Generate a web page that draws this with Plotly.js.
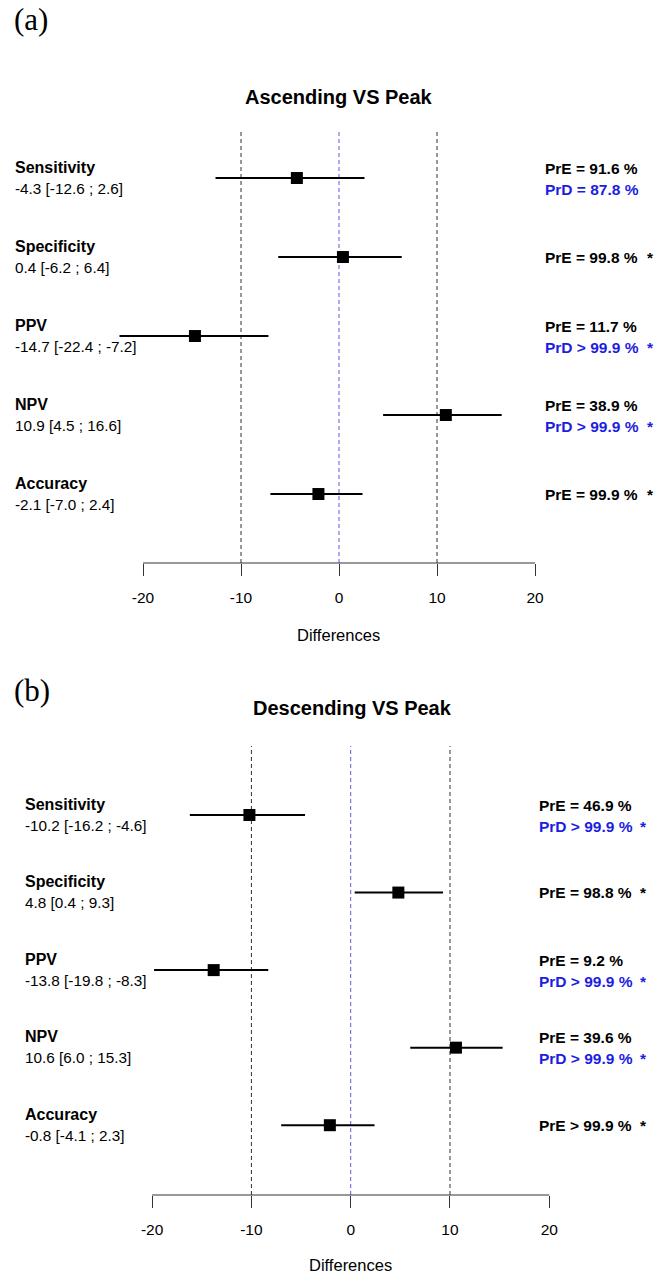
<!DOCTYPE html>
<html>
<head>
<meta charset="utf-8">
<script src="https://cdn.plot.ly/plotly-3.0.1.min.js"></script>
<style>html,body{margin:0;padding:0;background:#fff;}#chart{width:670px;height:1273px;}</style>
</head>
<body>
<div id="chart"></div>
<script>
// ---------- data ----------
const categories = ['Sensitivity', 'Specificity', 'PPV', 'NPV', 'Accuracy'];
const rowPos = [5, 4, 3, 2, 1];
const tickVals = [-20, -10, 0, 10, 20];
const refLines = [-10, 0, 10];

const titleA = 'Ascending VS Peak';
const estA = [-4.3, 0.4, -14.7, 10.9, -2.1];
const lowA = [-12.6, -6.2, -22.4, 4.5, -7.0];
const upA  = [2.6, 6.4, -7.2, 16.6, 2.4];
const ciLabelA = ['-4.3 [-12.6 ; 2.6]', '0.4 [-6.2 ; 6.4]', '-14.7 [-22.4 ; -7.2]', '10.9 [4.5 ; 16.6]', '-2.1 [-7.0 ; 2.4]'];
const preA = ['PrE = 91.6 %', 'PrE = 99.8 %', 'PrE = 11.7 %', 'PrE = 38.9 %', 'PrE = 99.9 %'];
const prdA = ['PrD = 87.8 %', '', 'PrD > 99.9 %', 'PrD > 99.9 %', ''];
const starA = [false, true, true, true, true];

const titleB = 'Descending VS Peak';
const estB = [-10.2, 4.8, -13.8, 10.6, -2.1];
const lowB = [-16.2, 0.4, -19.8, 6.0, -7.0];
const upB  = [-4.6, 9.3, -8.3, 15.3, 2.4];
const ciLabelB = ['-10.2 [-16.2 ; -4.6]', '4.8 [0.4 ; 9.3]', '-13.8 [-19.8 ; -8.3]', '10.6 [6.0 ; 15.3]', '-0.8 [-4.1 ; 2.3]'];
const preB = ['PrE = 46.9 %', 'PrE = 98.8 %', 'PrE = 9.2 %', 'PrE = 39.6 %', 'PrE > 99.9 %'];
const prdB = ['PrD > 99.9 %', '', 'PrD > 99.9 %', 'PrD > 99.9 %', ''];
const starB = [true, true, true, true, true];

// ---------- layout helpers ----------
const W = 670, H = 1273;
const FONT = 'Liberation Sans, Arial, sans-serif';
const BLUE = '#1d1de0';
const px = v => v / W;
const py = v => 1 - v / H;

const panels = [
  {tag: '(a)', tagY: 20, title: titleA, titleX: 339, titleY: 97, est: estA, low: lowA, up: upA,
   ci: ciLabelA, pre: preA, prd: prdA, star: starA, xa: 'x', ya: 'y',
   xdom: [103.8, 574.2], ydom: [563, 130], yr: [0.127, 5.608],
   leftX: 13, rightX: 543, starX: 650, diffY: 635},
  {tag: '(b)', tagY: 690, title: titleB, titleX: 352, titleY: 708, est: estB, low: lowB, up: upB,
   ci: ciLabelB, pre: preB, prd: prdB, star: starB, xa: 'x2', ya: 'y2',
   xdom: [112.4, 589.0], ydom: [1195, 746], yr: [0.1, 5.89],
   leftX: 23, rightX: 537, starX: 643, diffY: 1265}
];

const traces = [];
const shapes = [];
const annotations = [];
const layout = {
  width: W, height: H, margin: {l: 0, r: 0, t: 0, b: 0},
  paper_bgcolor: '#fff', plot_bgcolor: 'rgba(0,0,0,0)', showlegend: false,
  font: {family: FONT, color: '#000'}
};

panels.forEach((p, i) => {
  const sfx = i === 0 ? '' : '2';
  layout['xaxis' + sfx] = {
    domain: [px(p.xdom[0]), px(p.xdom[1])], range: [-24, 24], anchor: 'y' + sfx,
    showgrid: false, zeroline: false, showline: false,
    tickvals: tickVals, ticktext: tickVals.map(String), ticks: 'outside', ticklen: 12,
    tickwidth: 1, tickcolor: '#333', ticklabelstandoff: 8,
    tickfont: {family: FONT, size: 15.5, color: '#000'}, fixedrange: true
  };
  layout['yaxis' + sfx] = {
    domain: [py(p.ydom[0]), py(p.ydom[1])], range: p.yr, anchor: 'x' + sfx,
    visible: false, showgrid: false, zeroline: false, fixedrange: true
  };

  // axis line from -20 to 20
  shapes.push({type: 'line', xref: p.xa, yref: p.ya + ' domain', x0: tickVals[0], x1: tickVals[tickVals.length - 1],
    y0: 0, y1: 0, line: {color: '#333', width: 1}});
  // reference dashed lines
  refLines.forEach(v => {
    shapes.push({type: 'line', xref: p.xa, yref: p.ya + ' domain', x0: v, x1: v, y0: 0, y1: 1,
      line: {color: v === 0 ? '#5a5ae6' : '#333', width: 1, dash: '4px,3px'}, layer: 'below'});
  });

  // estimates + CIs
  traces.push({
    type: 'scatter', mode: 'markers', xaxis: p.xa, yaxis: p.ya,
    x: p.est, y: rowPos,
    marker: {symbol: 'square', size: 12, color: '#000'},
    error_x: {type: 'data', symmetric: false,
      array: p.up.map((u, k) => u - p.est[k]),
      arrayminus: p.est.map((e, k) => e - p.low[k]),
      color: '#000', thickness: 2, width: 0},
    cliponaxis: false, hoverinfo: 'skip'
  });

  // panel tag
  annotations.push({xref: 'paper', yref: 'paper', x: px(12), y: py(p.tagY), xanchor: 'left', yanchor: 'middle',
    text: p.tag, showarrow: false, font: {family: 'Liberation Serif, Times New Roman, serif', size: 31, color: '#000'}});
  // title
  annotations.push({xref: 'paper', yref: 'paper', x: px(p.titleX), y: py(p.titleY), xanchor: 'center', yanchor: 'middle',
    text: '<b>' + p.title + '</b>', showarrow: false, font: {family: FONT, size: 20, color: '#000'}});
  // x axis title
  annotations.push({xref: 'paper', yref: 'paper', x: px((p.xdom[0] + p.xdom[1]) / 2), y: py(p.diffY), xanchor: 'center', yanchor: 'middle',
    text: 'Differences', showarrow: false, font: {family: FONT, size: 16.5, color: '#000'}});

  categories.forEach((c, k) => {
    const yv = rowPos[k];
    annotations.push({xref: 'paper', yref: p.ya, x: px(p.leftX), y: yv, yshift: 11, xanchor: 'left', yanchor: 'middle',
      text: '<b>' + c + '</b>', showarrow: false, font: {family: FONT, size: 16, color: '#000'}});
    annotations.push({xref: 'paper', yref: p.ya, x: px(p.leftX), y: yv, yshift: -10, xanchor: 'left', yanchor: 'middle',
      text: p.ci[k], showarrow: false, font: {family: FONT, size: 15.3, color: '#000'}});
    const two = p.prd[k] !== '';
    annotations.push({xref: 'paper', yref: p.ya, x: px(p.rightX), y: yv, yshift: two ? 10 : 0, xanchor: 'left', yanchor: 'middle',
      text: '<b>' + p.pre[k] + '</b>', showarrow: false, font: {family: FONT, size: 15.5, color: '#000'}});
    if (two) {
      annotations.push({xref: 'paper', yref: p.ya, x: px(p.rightX), y: yv, yshift: -11, xanchor: 'left', yanchor: 'middle',
        text: '<b>' + p.prd[k] + '</b>', showarrow: false, font: {family: FONT, size: 15.5, color: BLUE}});
    }
    if (p.star[k]) {
      annotations.push({xref: 'paper', yref: p.ya, x: px(p.starX), y: yv, yshift: two ? -11 : 0, xanchor: 'center', yanchor: 'middle',
        text: '<b>*</b>', showarrow: false, font: {family: FONT, size: 15.5, color: two ? BLUE : '#000'}});
    }
  });
});

layout.shapes = shapes;
layout.annotations = annotations;

Plotly.newPlot('chart', traces, layout, {staticPlot: true, displayModeBar: false});
</script>
</body>
</html>
